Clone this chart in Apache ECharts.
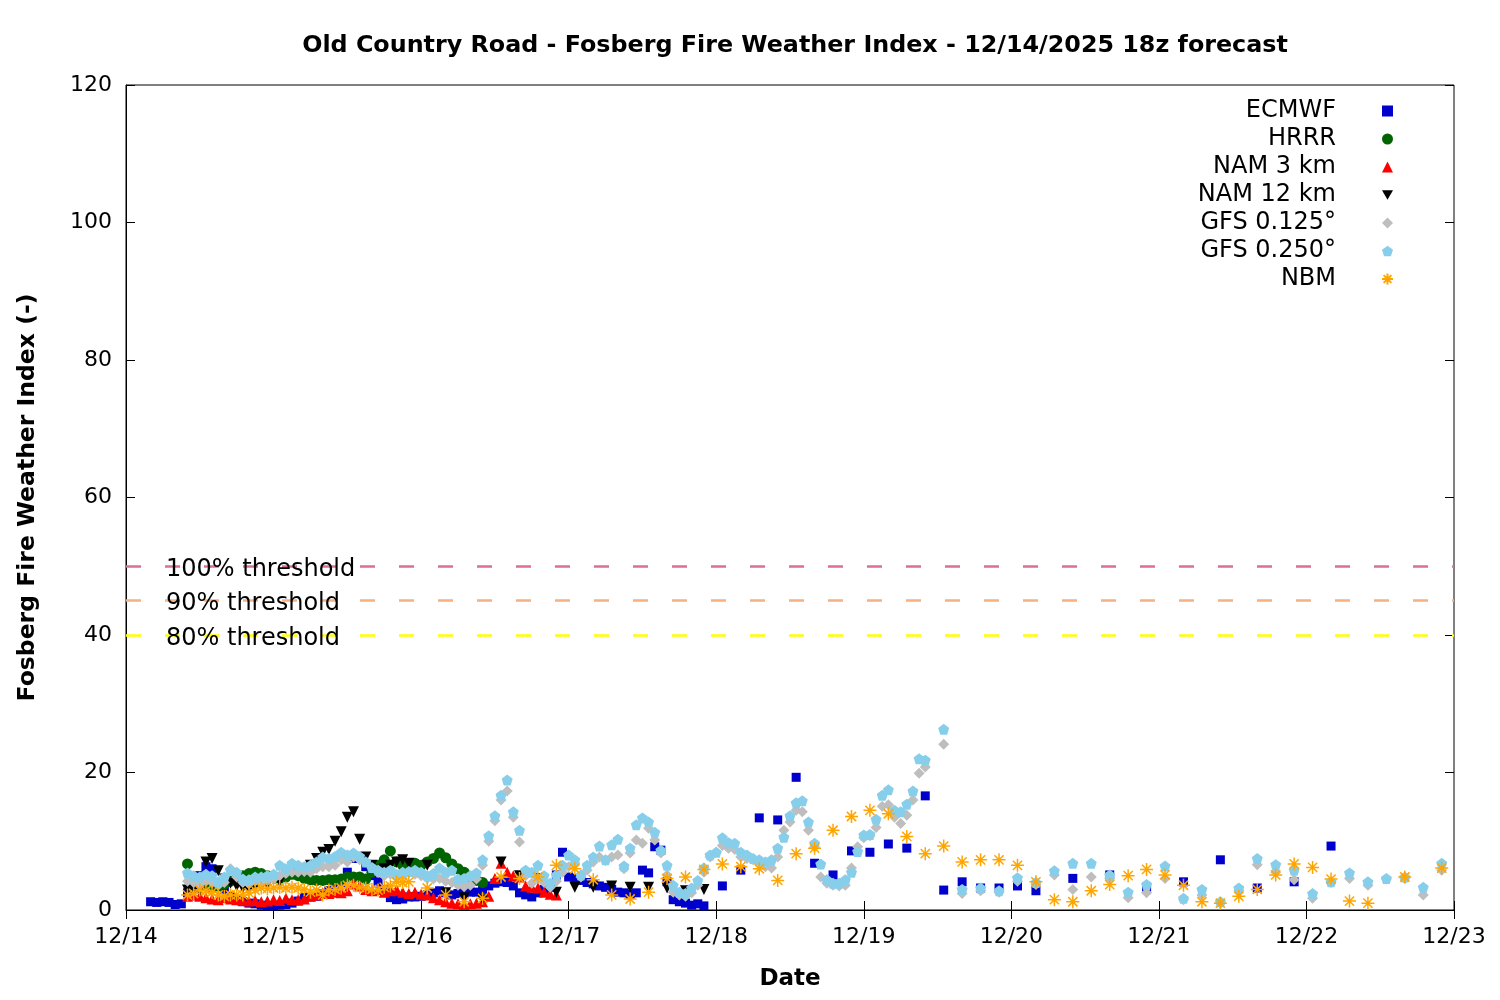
<!DOCTYPE html>
<html>
<head>
<meta charset="utf-8">
<script src="https://cdn.jsdelivr.net/npm/echarts@6/dist/echarts.min.js"></script>
<style>
html,body{margin:0;padding:0;background:#fff;}
#chart{width:1500px;height:1000px;}
</style>
</head>
<body>
<div id="chart"></div>
<script>
// ---- Data (hours counted from 12/14 00:00) ----
const dayLabels = ['12/14','12/15','12/16','12/17','12/18','12/19','12/20','12/21','12/22','12/23'];

// ECMWF: hourly from h4, 3-hourly from h97, 6-hourly from h154
const ecmwfHourly = [1.2,1.1,1.2,1.1,0.8,0.9,
  2.5,3.5,5.0,6.3,6.0,4.0,3.0,2.0,1.5,1.2,
  1.0,0.9,0.7,0.6,0.6,0.7,0.8,1.0,1.3,1.8,
  1.9,2.0,2.4,2.8,3.3,4.0,5.5,7.5,7.5,6.3,
  5.0,4.1,3.0,1.8,1.5,1.6,1.9,1.9,2.0,2.2,
  2.5,2.8,2.5,2.2,2.4,2.5,2.6,2.6,3.0,3.5,
  3.9,4.1,4.0,3.5,2.5,2.2,1.9,2.5,3.0,3.3,
  5.1,8.4,4.8,4.6,4.3,4.0,3.8,3.5,3.3,3.0,
  2.6,2.5,2.3,2.5,5.8,5.4,9.2,8.7,4.1,1.5,
  1.2,1.0,0.7,0.9,0.6];
const ecmwf3h = [3.5,5.8,13.4,13.1,19.3,6.8,5.1,8.6,8.4,9.6,9.0,16.6,2.9,4.1,3.2,3.2,3.5,2.8];
const ecmwf6h = [4.6,5.1,3.3,4.1,7.3,3.2,4.1,9.3];

// HRRR: hourly from h10
const hrrrHourly = [6.7,4.5,3.5,3.5,3.2,3.5,3.8,4.2,4.6,5.0,
  5.3,5.5,5.3,5.0,4.8,4.6,4.8,5.2,5.0,4.6,
  4.4,4.3,4.3,4.4,4.4,4.5,4.8,4.8,4.8,4.5,
  5.5,6.5,7.3,8.6,7.0,6.5,6.0,6.8,6.5,7.0,
  7.5,8.3,7.6,6.7,6.0,5.5,4.8,4.3,4.0];

// NAM 3 km: hourly from h10
const nam3Hourly = [2.0,2.2,2.0,1.8,1.6,1.5,1.8,1.6,1.5,1.4,
  1.3,1.4,1.2,1.3,1.5,1.4,1.7,1.5,1.5,1.6,
  2.0,2.2,2.5,2.4,2.6,2.5,2.8,3.8,3.5,3.0,
  2.8,3.0,2.6,2.8,3.0,2.6,2.4,2.6,2.3,2.2,
  1.8,1.5,1.2,1.0,0.9,0.8,0.9,1.0,1.2,2.0,
  4.6,6.8,5.5,5.0,4.8,3.5,3.3,3.2,2.6,2.3,
  2.2];

// NAM 12 km: hourly from h10, 3-hourly from h49
const nam12Hourly = [2.9,2.6,2.8,7.0,7.5,5.7,4.5,3.9,3.5,3.2,
  3.0,3.3,3.5,3.8,4.4,4.1,5.2,5.5,5.5,6.0,
  6.5,7.5,8.4,8.8,10.0,11.4,13.5,14.3,10.3,7.7,
  6.5,5.8,6.0,6.5,7.0,7.3,6.8];
const nam12_3h = [6.5,2.5,1.8,1.5,7.0,5.0,4.6,2.6,3.3,3.3,3.5,3.3,3.3,3.2,2.8,3.0];

// GFS 0.125: hourly from h10, 3-hourly from h133
const gfs125Hourly = [4.2,4.0,3.8,4.2,4.0,3.6,4.0,6.0,4.8,4.0,
  3.8,4.2,4.0,4.3,4.5,5.0,5.3,5.5,5.5,5.6,
  5.5,6.0,6.3,6.3,6.5,7.3,7.0,7.7,7.3,7.0,
  6.1,5.5,5.0,5.2,4.8,5.0,5.4,5.2,5.0,4.6,
  4.5,4.6,4.2,4.0,3.6,3.4,3.6,4.5,6.5,10.0,
  13.0,16.0,17.3,13.5,9.9,5.0,3.9,4.6,4.0,3.3,
  4.2,5.5,6.3,6.8,4.8,5.8,7.0,7.7,7.2,7.7,
  8.0,6.0,8.3,10.2,9.7,11.9,10.2,8.3,5.1,2.6,
  2.2,2.0,2.5,3.6,5.5,7.7,8.4,9.4,9.0,8.8,
  7.7,7.5,7.3,7.0,6.3,6.1,7.7,11.6,12.8,14.5,
  14.3,11.6,9.2,4.8,3.9,3.6,3.5,3.6,6.1,9.2,
  10.5,10.8,12.0,15.1,15.3,13.5,12.6,13.8,16.0,19.9,
  20.8];
const gfs125_3h = [24.1,2.4,2.8,2.6,4.2,3.7,5.1,3.0,4.8,4.6,1.8,2.5,4.6,1.5,2.2,1.0,2.8,6.6,5.5,4.4,1.7,4.0,4.6,3.6,4.5,4.6,2.2,5.8];

// GFS 0.250: hourly from h10, 3-hourly from h133
const gfs250Hourly = [5.4,5.0,4.8,5.2,5.0,4.1,4.8,5.8,5.5,4.5,
  4.4,4.8,4.8,5.0,5.2,6.5,6.0,6.8,6.5,6.3,
  6.5,7.0,7.7,7.5,7.8,8.4,8.0,8.3,7.8,7.0,
  6.2,5.8,5.5,5.8,5.2,5.5,5.6,5.8,5.5,5.0,
  5.3,6.1,5.5,5.8,4.5,4.6,5.0,5.4,7.3,10.8,
  13.7,16.7,18.9,14.3,11.6,5.8,5.5,6.5,5.0,3.9,
  5.1,6.5,8.0,7.3,5.1,6.5,7.7,9.3,7.3,9.5,
  10.3,6.4,9.0,12.4,13.4,12.8,11.3,8.7,6.5,3.6,
  2.6,2.4,3.2,4.3,6.1,8.0,8.4,10.5,9.8,9.7,
  8.4,8.0,7.5,7.3,7.0,7.3,9.0,10.6,13.7,15.6,
  15.9,12.8,9.7,6.7,4.4,3.9,3.9,4.4,5.5,8.5,
  10.9,11.0,13.2,16.7,17.5,14.5,14.3,15.4,17.3,22.0,
  21.8];
const gfs250_3h = [26.3,3.0,3.2,2.8,4.7,4.0,5.7,6.8,6.8,5.1,2.6,3.7,6.4,1.7,3.0,1.2,3.2,7.5,6.6,5.8,2.4,4.1,5.4,4.1,4.6,4.8,3.3,6.8];

// NBM: hourly from h10, 3-hourly from h49, 6-hourly from h208
const nbmHourly = [2.2,2.4,2.9,2.8,2.6,2.2,2.0,2.2,2.2,2.2,
  2.5,2.9,3.2,3.1,3.2,3.3,3.2,3.3,3.2,3.0,
  2.6,2.9,2.2,2.9,3.0,3.2,3.6,3.6,3.3,3.2,
  3.0,2.9,3.3,3.5,4.1,4.0,4.1];
const nbm3h = [3.2,2.2,1.2,1.7,4.8,4.6,4.8,6.5,6.0,4.4,
  2.2,1.6,2.6,4.6,4.8,5.9,6.7,6.3,6.0,4.3,
  8.2,9.0,11.6,13.6,14.5,14.0,10.7,8.2,9.3,7.0,
  7.3,7.3,6.5,4.1,1.5,1.2,2.8,3.7,5.0,5.9,
  5.1,3.6,1.2,1.0,2.0,3.0,5.1,6.7,6.2,4.5,
  1.3,1.0];
const nbm6h = [4.8,6.1];

const thresholdNames = ['100% threshold','90% threshold','80% threshold'];
const thresholdValues = [50,45,40];

// ---- Build ----
const BASE = Date.UTC(2025,11,14);
const HOUR = 3600000, DAY = 86400000;
function pts(segments){
  const out = [];
  segments.forEach(([start, step, vals]) => vals.forEach((v,i) => out.push([BASE + (start + i*step)*HOUR, v])));
  return out;
}

const PENTAGON = 'path://M0,-10L9.51,-3.09L5.88,8.09L-5.88,8.09L-9.51,-3.09Z';
const DOWN_TRI = 'path://M-10,-8.66L10,-8.66L0,8.66Z';
const ASTERISK = 'path://M0,-10L0,10M-10,0L10,0M-7.07,-7.07L7.07,7.07M-7.07,7.07L7.07,-7.07';

const thresholdColors = ['#db7093','#f4b183','#ffff00'];

const seriesDefs = [
  {name:'ECMWF', data: pts([[4,1,ecmwfHourly],[97,3,ecmwf3h],[154,6,ecmwf6h]]), symbol:'rect', symbolSize:9, itemStyle:{color:'#0000cd', opacity:1}},
  {name:'HRRR', data: pts([[10,1,hrrrHourly]]), symbol:'circle', symbolSize:11, itemStyle:{color:'#006400', opacity:1}},
  {name:'NAM 3 km', data: pts([[10,1,nam3Hourly]]), symbol:'triangle', symbolSize:11, itemStyle:{color:'#ff0000', opacity:1}},
  {name:'NAM 12 km', data: pts([[10,1,nam12Hourly],[49,3,nam12_3h]]), symbol:DOWN_TRI, symbolSize:11, itemStyle:{color:'#000000', opacity:1}},
  {name:'GFS 0.125°', data: pts([[10,1,gfs125Hourly],[133,3,gfs125_3h]]), symbol:'diamond', symbolSize:11, itemStyle:{color:'#bebebe', opacity:1}},
  {name:'GFS 0.250°', data: pts([[10,1,gfs250Hourly],[133,3,gfs250_3h]]), symbol:PENTAGON, symbolSize:11, itemStyle:{color:'#87ceeb', opacity:1}},
  {name:'NBM', data: pts([[10,1,nbmHourly],[49,3,nbm3h],[208,6,nbm6h]]), symbol:ASTERISK, symbolSize:13, itemStyle:{color:'rgba(0,0,0,0)', borderColor:'#ffa500', borderWidth:1.5, opacity:1}}
];

const series = seriesDefs.map(d => Object.assign({type:'scatter', xAxisIndex:0, yAxisIndex:0, emphasis:{disabled:true}}, d));

series.push({
  type:'line', name:'thresholds', data:[], xAxisIndex:0, yAxisIndex:0, silent:true,
  markLine:{
    symbol:['none','none'], silent:true, animation:false,
    data: thresholdValues.map((v,i) => ({
      yAxis: v,
      lineStyle:{color: thresholdColors[i], width:2.5, type:[15,24]},
      label:{show:true, formatter: '{t|' + thresholdNames[i] + '}', position:'insideStart', distance:40,
        rich:{t:{color:'#000', fontSize:24, fontFamily:'DejaVu Sans', padding:[7,0,0,0]}}}
    }))
  }
});

const FONT = 'DejaVu Sans';
const chart = echarts.init(document.getElementById('chart'), null, {renderer:'canvas'});
chart.setOption({
  animation:false,
  useUTC:true,
  backgroundColor:'#fff',
  textStyle:{fontFamily:FONT},
  title:{
    text:'Old Country Road - Fosberg Fire Weather Index - 12/14/2025 18z forecast',
    left:790, top:29, textAlign:'center',
    textStyle:{fontFamily:FONT, fontWeight:'bold', fontSize:23.8, color:'#000'}
  },
  legend:{
    data: seriesDefs.map(d => d.name),
    orient:'vertical', right:101, top:94, align:'right',
    itemWidth:11, itemHeight:11, itemGap:4,
    textStyle:{fontFamily:FONT, fontSize:24, color:'#000', padding:[0,41,0,0]},
    selectedMode:false
  },
  grid:{left:126, right:46, top:85, bottom:90, show:true, borderColor:'#000', borderWidth:1, containLabel:false},
  xAxis:[{
    type:'time', min:BASE, max:BASE+9*DAY, interval:DAY, position:'bottom',
    name:'Date', nameLocation:'middle', nameGap:58,
    nameTextStyle:{fontFamily:FONT, fontWeight:'bold', fontSize:23, color:'#000'},
    axisLine:{lineStyle:{color:'#000', width:1}},
    axisTick:{inside:true, length:9, lineStyle:{color:'#000'}},
    axisLabel:{fontFamily:FONT, fontSize:22, color:'#000', margin:16, showMaxLabel:true, showMinLabel:true, hideOverlap:false,
      formatter: v => dayLabels[Math.round((v-BASE)/DAY)] || ''},
    splitLine:{show:false}, minorTick:{show:false}
  },{
    type:'time', min:BASE, max:BASE+9*DAY, interval:DAY, position:'top',
    axisLine:{show:false}, axisTick:{inside:true, length:9, lineStyle:{color:'#000'}},
    axisLabel:{show:false}, splitLine:{show:false}
  }],
  yAxis:[{
    type:'value', min:0, max:120, interval:20, position:'left',
    name:'Fosberg Fire Weather Index (-)', nameLocation:'middle', nameGap:86, nameRotate:90,
    nameTextStyle:{fontFamily:FONT, fontWeight:'bold', fontSize:23.5, color:'#000'},
    axisLine:{show:true, lineStyle:{color:'#000'}},
    axisTick:{show:true, inside:true, length:9, lineStyle:{color:'#000'}},
    axisLabel:{fontFamily:FONT, fontSize:22, color:'#000', margin:14},
    splitLine:{show:false}
  },{
    type:'value', min:0, max:120, interval:20, position:'right',
    axisLine:{show:false}, axisTick:{show:true, inside:true, length:9, lineStyle:{color:'#000'}},
    axisLabel:{show:false}, splitLine:{show:false}
  }],
  series: series
});
</script>
</body>
</html>
